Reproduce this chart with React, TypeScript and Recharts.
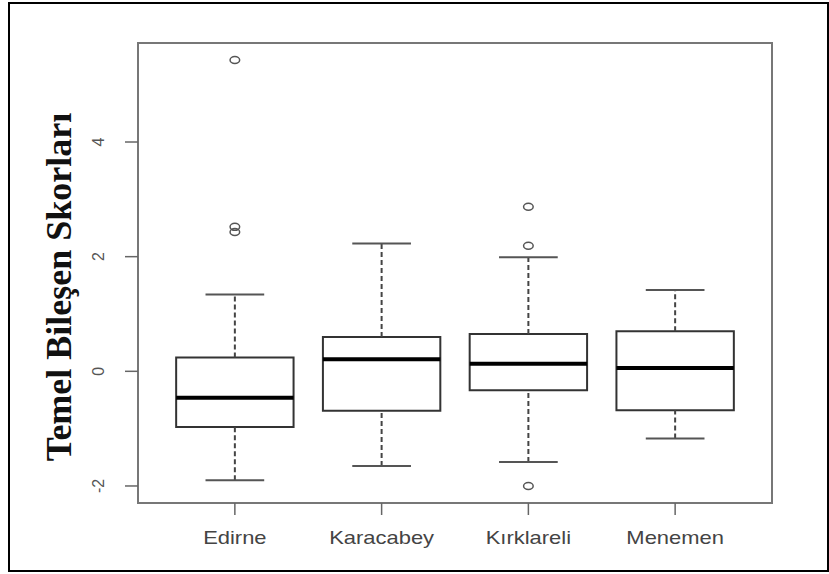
import { ComposedChart, ReferenceArea, ReferenceLine, Scatter, XAxis, YAxis } from "recharts";

// Principal component scores by site (boxplot five-number summaries)
const sites = ["Edirne", "Karacabey", "Kırklareli", "Menemen"];
const lowWhisker = [-1.9, -1.65, -1.58, -1.17];
const q1 = [-0.97, -0.69, -0.33, -0.68];
const medians = [-0.46, 0.21, 0.13, 0.06];
const q3 = [0.24, 0.6, 0.65, 0.7];
const highWhisker = [1.34, 2.23, 1.99, 1.42];

// outliers: site index (1-based) and value
const outlierSite = [1, 1, 1, 3, 3, 3];
const outlierValue = [5.43, 2.52, 2.43, 2.87, 2.19, -2.0];

const yTicks = [-2, 0, 2, 4];
const yDomain: [number, number] = [-2.297, 5.727];
const xDomain: [number, number] = [0.34, 4.66];

const BOX_HALF = 0.4;
const CAP_HALF = 0.2;

const outliers = outlierSite.map((s, i) => ({ x: s, y: outlierValue[i] }));

const sans = "'Liberation Sans', Arial, Helvetica, sans-serif";

function SiteTick(props: any) {
  const { x, y, payload } = props;
  return (
    <g transform={`translate(${x},${y + 27}) scale(1.22,1)`}>
      <text x={0} y={0} textAnchor="middle" fontFamily={sans} fontSize={18} fill="#444">
        {sites[payload.value - 1]}
      </text>
    </g>
  );
}

function ScoreTick(props: any) {
  const { x, y, payload } = props;
  const tx = x - 19;
  return (
    <text
      x={tx}
      y={y}
      transform={`rotate(-90 ${tx} ${y})`}
      textAnchor="middle"
      fontFamily={sans}
      fontSize={16}
      fill="#555"
    >
      {payload.value}
    </text>
  );
}

function AxisTitle(props: any) {
  const vb = props.viewBox;
  const cx = vb.x - 39 + 12;
  const cy = vb.y + vb.height / 2 + 14;
  return (
    <text
      x={cx}
      y={cy}
      transform={`rotate(-90 ${cx} ${cy})`}
      textAnchor="middle"
      fontFamily="'Liberation Serif', 'Times New Roman', serif"
      fontWeight="bold"
      fontSize={36}
      fill="#111"
    >
      Temel Bileşen Skorları
    </text>
  );
}

const Outlier = (p: any) => (
  <ellipse cx={p.cx} cy={p.cy} rx={4.8} ry={3.5} fill="none" stroke="#555" strokeWidth={1.5} />
);

export default function App() {
  return (
    <div style={{ position: "absolute", left: 0, top: 0, width: 829, height: 574, background: "#fff" }}>
      <div
        style={{
          position: "absolute",
          left: 8,
          top: 2,
          width: 817,
          height: 566,
          border: "2px solid #000",
        }}
      />
      <div style={{ position: "absolute", left: 0, top: 0 }}>
        <ComposedChart width={829} height={574} margin={{ top: 43, right: 57, bottom: 41, left: 98 }}>
          <XAxis
            type="number"
            dataKey="x"
            domain={xDomain}
            ticks={[1, 2, 3, 4]}
            allowDataOverflow
            axisLine={false}
            tickSize={12}
            tickLine={{ stroke: "#666", strokeWidth: 1.5 }}
            tick={<SiteTick />}
            height={30}
          />
          <YAxis
            type="number"
            dataKey="y"
            domain={yDomain}
            ticks={yTicks}
            allowDataOverflow
            axisLine={false}
            tickSize={13}
            tickLine={{ stroke: "#666", strokeWidth: 1.5 }}
            tick={<ScoreTick />}
            width={40}
            label={{ content: <AxisTitle /> }}
          />
          <ReferenceArea
            x1={xDomain[0]}
            x2={xDomain[1]}
            y1={yDomain[0]}
            y2={yDomain[1]}
            ifOverflow="visible"
            fill="none"
            stroke="#777"
            strokeWidth={2}
          />
          {sites.map((s, i) => (
            <ReferenceLine
              key={`lw-${s}`}
              segment={[
                { x: i + 1, y: lowWhisker[i] },
                { x: i + 1, y: q1[i] },
              ]}
              stroke="#444"
              strokeWidth={2}
              strokeDasharray="5 3"
            />
          ))}
          {sites.map((s, i) => (
            <ReferenceLine
              key={`hw-${s}`}
              segment={[
                { x: i + 1, y: q3[i] },
                { x: i + 1, y: highWhisker[i] },
              ]}
              stroke="#444"
              strokeWidth={2}
              strokeDasharray="5 3"
            />
          ))}
          {sites.map((s, i) => (
            <ReferenceLine
              key={`lc-${s}`}
              segment={[
                { x: i + 1 - CAP_HALF, y: lowWhisker[i] },
                { x: i + 1 + CAP_HALF, y: lowWhisker[i] },
              ]}
              stroke="#555"
              strokeWidth={2}
            />
          ))}
          {sites.map((s, i) => (
            <ReferenceLine
              key={`hc-${s}`}
              segment={[
                { x: i + 1 - CAP_HALF, y: highWhisker[i] },
                { x: i + 1 + CAP_HALF, y: highWhisker[i] },
              ]}
              stroke="#555"
              strokeWidth={2}
            />
          ))}
          {sites.map((s, i) => (
            <ReferenceArea
              key={`box-${s}`}
              x1={i + 1 - BOX_HALF}
              x2={i + 1 + BOX_HALF}
              y1={q1[i]}
              y2={q3[i]}
              fill="none"
              stroke="#333"
              strokeWidth={2}
            />
          ))}
          {sites.map((s, i) => (
            <ReferenceLine
              key={`med-${s}`}
              segment={[
                { x: i + 1 - BOX_HALF, y: medians[i] },
                { x: i + 1 + BOX_HALF, y: medians[i] },
              ]}
              stroke="#000"
              strokeWidth={4}
            />
          ))}
          <Scatter data={outliers} dataKey="y" shape={<Outlier />} isAnimationActive={false} />
        </ComposedChart>
      </div>
    </div>
  );
}
